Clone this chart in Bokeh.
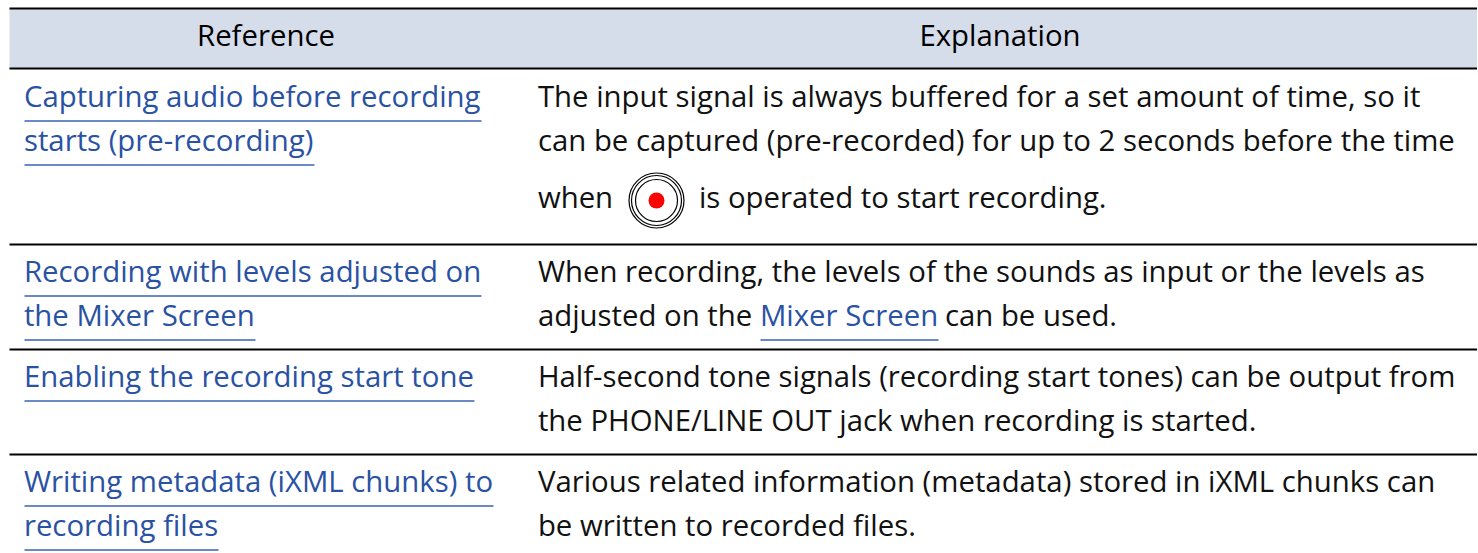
from bokeh.plotting import figure
from bokeh.models import Range1d
from bokeh.core.properties import value
from bokeh.embed import file_html
from bokeh.resources import INLINE

headers = ["Reference", "Explanation"]
black_text = [
    "The input signal is always buffered for a set amount of time, so it",
    "can be captured (pre-recorded) for up to 2 seconds before the time",
    "when", "is operated to start recording.",
    "When recording, the levels of the sounds as input or the levels as",
    "adjusted on the", "can be used.",
    "Half-second tone signals (recording start tones) can be output from",
    "the PHONE/LINE OUT jack when recording is started.",
    "Various related information (metadata) stored in iXML chunks can",
    "be written to recorded files.",
]
black_x = [538, 538, 538, 699, 538, 538, 945, 538, 538, 538, 538]
black_y = [107, 151, 208, 208, 282, 326, 326, 387, 431, 492, 536]
link_text = [
    "Capturing audio before recording", "starts (pre-recording)",
    "Recording with levels adjusted on", "the Mixer Screen",
    "Enabling the recording start tone",
    "Writing metadata (iXML chunks) to", "recording files",
    "Mixer Screen",
]
link_x = [24, 24, 24, 24, 24, 24, 24, 760]
link_y = [107, 151, 282, 326, 387, 492, 536, 326]
link_end = [481, 314, 481, 255, 474, 493, 218, 938]
rules_y = [8, 68, 244, 349, 454]

FONT = value("Open Sans")
SIZE = "29.35px"
LIFT = -12
NUDGE = -0.6
RIGHT = 1476.5
p = figure(width=1478, height=553, x_range=Range1d(0, 1478), y_range=Range1d(553, 0),
           output_backend="svg", toolbar_location=None, min_border=0)
p.xaxis.visible = False
p.yaxis.visible = False
p.xgrid.visible = False
p.ygrid.visible = False
p.outline_line_color = None

p.quad(left=9, right=RIGHT, top=8, bottom=68, fill_color="#d5dcea", line_color=None)
p.segment(x0=[9]*len(rules_y), x1=[RIGHT]*len(rules_y), y0=rules_y, y1=rules_y,
          line_color="#000000", line_width=2)
p.text(x=[265.5, 999.5], y=[45, 45], text=headers, text_font=FONT, text_font_size=SIZE,
       text_color="#000000", text_align="center", text_baseline="alphabetic", y_offset=LIFT + 1.5)
p.text(x=black_x, y=black_y, text=black_text, text_font=FONT, text_font_size=SIZE,
       text_color="#111111", text_baseline="alphabetic", x_offset=NUDGE, y_offset=LIFT)
p.text(x=link_x, y=link_y, text=link_text, text_font=FONT, text_font_size=SIZE,
       text_color="#2a52a3", text_baseline="alphabetic", x_offset=NUDGE, y_offset=LIFT)
p.segment(x0=link_x, x1=link_end, y0=[y + 13.6 for y in link_y], y1=[y + 13.6 for y in link_y],
          line_color="#3a62b0", line_width=1.5)

for r in [27.5, 25, 21]:
    p.scatter(x=[656], y=[200], size=2 * r, marker="circle", fill_color=None,
              line_color="#000000", line_width=1.2)
p.scatter(x=[656], y=[200], size=16, marker="circle", fill_color="#ff0000", line_color=None)

open("out.html", "w").write(file_html(p, INLINE))
